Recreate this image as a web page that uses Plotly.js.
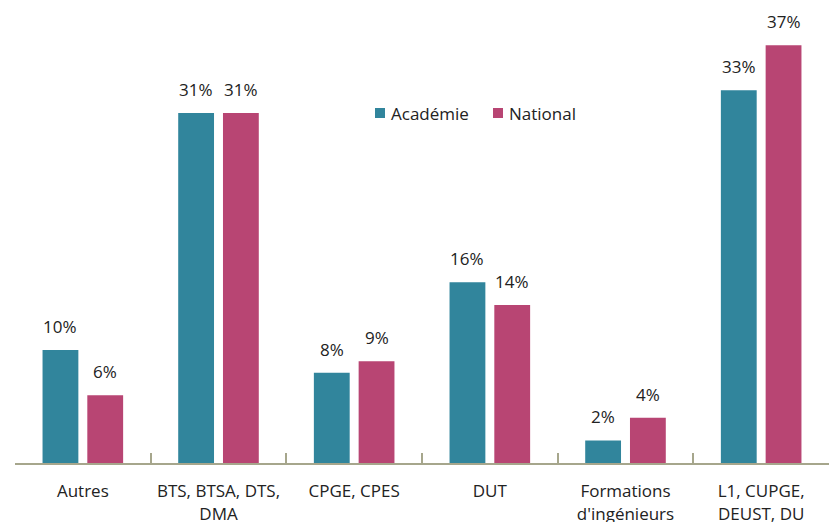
<!DOCTYPE html>
<html><head><meta charset="utf-8">
<script src="https://cdn.plot.ly/plotly-3.0.1.min.js"></script>
<style>html,body{margin:0;padding:0;background:#fff;}#chart{width:830px;height:522px;}</style>
</head><body><div id="chart"></div>
<script>
const categories = ["Autres", "BTS, BTSA, DTS,<br>DMA", "CPGE, CPES", "DUT", "Formations<br>d'ingénieurs", "L1, CUPGE,<br>DEUST, DU"];
const academie = [10, 31, 8, 16, 2, 33];
const national = [6, 31, 9, 14, 4, 37];
const seriesNames = ["Académie", "National"];
const colors = ["#31859C", "#B84573"];
const FONT = "Open Sans, Lato, sans-serif";

const mk = (vals, name, color) => ({
  type: "bar", x: categories, y: vals, name: name,
  marker: {color: color},
  hoverinfo: "none", showlegend: false
});
const data = [mk(academie, seriesNames[0], colors[0]), mk(national, seriesNames[1], colors[1])];

const off = 0.166;
const annotations = [];
[academie, national].forEach((vals, s) => {
  vals.forEach((v, i) => {
    annotations.push({x: i + (s === 0 ? -off : off), y: v, xref: "x", yref: "y",
      text: v + "%", showarrow: false, yanchor: "bottom", yshift: 10,
      font: {family: FONT, size: 17, color: "#222"}});
  });
});

// custom legend (plot area: x 15..829 px, y 0..463 px)
const PW = 814, PH = 463, PL = 15;
const px = x => (x - PL) / PW, py = y => (PH - y) / PH;
const legendX = [375, 493];
const legendY = 113;
const shapes = [{type: "rect", xref: "paper", yref: "paper", x0: px(0), x1: px(32), y0: 1, y1: 1 + 2/PH,
    fillcolor: "#F2B6CC", line: {width: 0}}];
seriesNames.forEach((n, s) => {
  shapes.push({type: "rect", xref: "paper", yref: "paper",
    x0: px(legendX[s]), x1: px(legendX[s] + 10), y0: py(legendY + 5), y1: py(legendY - 5),
    fillcolor: colors[s], line: {width: 0}});
  annotations.push({xref: "paper", yref: "paper", x: px(legendX[s] + 14), y: py(legendY),
    xanchor: "left", yanchor: "middle", showarrow: false, text: n,
    font: {family: FONT, size: 17, color: "#222"}});
});

const layout = {
  width: 830, height: 522,
  margin: {l: 15, r: 1, t: 0, b: 59},
  paper_bgcolor: "#fff", plot_bgcolor: "#fff",
  barmode: "group", bargap: 0.34, bargroupgap: 0.2,
  font: {family: FONT, size: 17, color: "#222"},
  xaxis: {
    type: "category", showline: true, linecolor: "#A6A68C", linewidth: 2,
    ticks: "inside", tickson: "boundaries", ticklen: 10, tickwidth: 2, tickcolor: "#A6A68C",
    ticklabelstandoff: 12,
    tickfont: {family: FONT, size: 17, color: "#222"},
    showgrid: false, zeroline: false
  },
  yaxis: {range: [0, 41], visible: false, showgrid: false, zeroline: false},
  showlegend: false,
  annotations: annotations,
  shapes: shapes
};
Plotly.newPlot("chart", data, layout, {displayModeBar: false, staticPlot: true});
</script></body></html>
